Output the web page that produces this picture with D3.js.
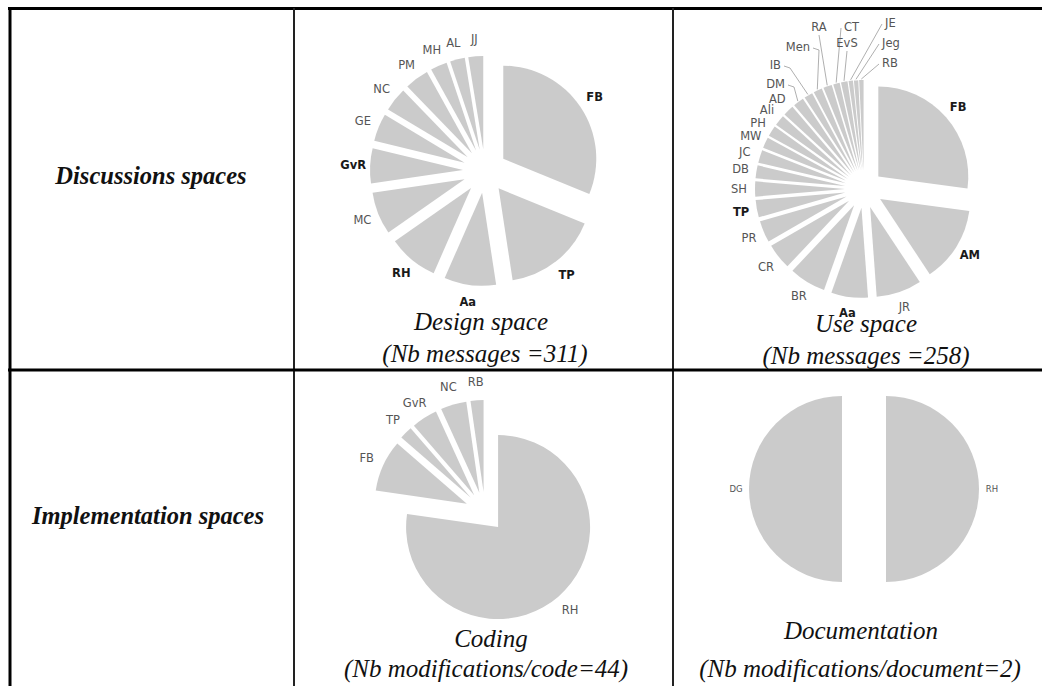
<!DOCTYPE html>
<html>
<head>
<meta charset="utf-8">
<script src="https://cdn.jsdelivr.net/npm/d3@7"></script>
<style>
  html, body { margin: 0; padding: 0; background: #fff; }
  svg { display: block; }
</style>
</head>
<body>
<svg id="chart" width="1042" height="686"></svg>
<script>
// ---------------- DATA ----------------
const designNames  = ["FB","TP","Aa","RH","MC","GvR","GE","NC","PM","MH","AL","JJ"];
const designValues = [97, 51, 28, 27, 23, 19, 15, 13, 13, 9, 8, 8];
const designBold   = ["FB","TP","Aa","RH","GvR"];

const useNames  = ["FB","AM","JR","Aa","BR","CR","PR","TP","SH","DB","JC","MW","PH","Ali","AD","DM","IB","Men","RA","CT","EvS","JE","Jeg","RB"];
const useValues = [70, 35, 21, 17, 17, 12, 10, 8, 7, 6, 6, 5, 5, 5, 5, 5, 4, 4, 4, 3, 3, 2, 2, 2];
const useBold   = ["FB","AM","Aa","TP"];

const codingNames  = ["RH","FB","TP","GvR","NC","RB"];
const codingValues = [34, 4, 1, 2, 2, 1];
const codingBold   = [];

const docNames  = ["RH","DG"];
const docValues = [1, 1];
const docBold   = [];

const rowHeaders = ["Discussions spaces", "Implementation spaces"];
const pieTitles = [
  ["Design space", "(Nb messages =311)"],
  ["Use space", "(Nb messages =258)"],
  ["Coding", "(Nb modifications/code=44)"],
  ["Documentation", "(Nb modifications/document=2)"]
];

// ---------------- LAYOUT ----------------
const svg = d3.select("#chart");
const FILL = "#cbcbcb";

// table rules
const grid = svg.append("g").attr("stroke", "#000");
grid.append("line").attr("x1", 8).attr("x2", 1042).attr("y1", 8.5).attr("y2", 8.5).attr("stroke-width", 3);
grid.append("line").attr("x1", 10).attr("x2", 10).attr("y1", 7).attr("y2", 686).attr("stroke-width", 3);
grid.append("line").attr("x1", 294).attr("x2", 294).attr("y1", 8).attr("y2", 686).attr("stroke-width", 2).attr("stroke", "#222");
grid.append("line").attr("x1", 673).attr("x2", 673).attr("y1", 8).attr("y2", 686).attr("stroke-width", 2).attr("stroke", "#222");
grid.append("line").attr("x1", 8).attr("x2", 1042).attr("y1", 370).attr("y2", 370).attr("stroke-width", 3);

// row headers
const headerPos = [[151, 175], [148, 515]];
rowHeaders.forEach((t, i) => {
  svg.append("text")
    .attr("x", headerPos[i][0]).attr("y", headerPos[i][1])
    .attr("dy", "0.35em")
    .attr("text-anchor", "middle")
    .style("font-family", "'Liberation Serif', 'DejaVu Serif', serif")
    .style("font-style", "italic").style("font-weight", "bold")
    .style("font-size", "24.5px").attr("fill", "#111")
    .text(t);
});

// pie titles
const titlePos = [
  [[481, 321], [485, 353]],
  [[866, 323], [866, 355]],
  [[491, 638], [486, 668]],
  [[861, 630], [860, 668]]
];
pieTitles.forEach((pair, i) => {
  pair.forEach((t, j) => {
    svg.append("text")
      .attr("x", titlePos[i][j][0]).attr("y", titlePos[i][j][1])
      .attr("dy", "0.35em").attr("text-anchor", "middle")
      .style("font-family", "'Liberation Serif', 'DejaVu Serif', serif")
      .style("font-style", "italic").style("font-size", "25px")
      .attr("fill", "#111").text(t);
  });
});

// generic exploded pie
function drawPie(opts) {
  const data = opts.names.map((n, i) => ({ name: n, value: opts.values[i] }));
  const pie = d3.pie().sort(null).value(d => d.value);
  const arcs = pie(data);
  const arc = d3.arc().innerRadius(0).outerRadius(opts.r);
  const g = svg.append("g").attr("transform", `translate(${opts.cx},${opts.cy})`);
  const mid = a => (a.startAngle + a.endAngle) / 2;
  const pt = (ang, rad) => [Math.sin(ang) * rad, -Math.cos(ang) * rad];

  g.selectAll("path.slice").data(arcs).join("path")
    .attr("class", "slice")
    .attr("d", arc)
    .attr("fill", FILL)
    .attr("transform", a => {
      const [x, y] = pt(mid(a), opts.explode);
      return `translate(${x},${y})`;
    });

  const labelR = opts.r + opts.explode + opts.labelPad;
  const leaders = opts.leaders || {};
  arcs.forEach(a => {
    const name = a.data.name;
    const bold = opts.bold.includes(name);
    const txt = g.append("text")
      .style("font-family", "'DejaVu Sans', Verdana, sans-serif")
      .style("font-size", opts.fontSize + "px")
      .style("font-weight", bold ? "bold" : "normal")
      .attr("fill", bold ? "#1a1a1a" : "#555")
      .attr("dy", "0.35em")
      .text(name);
    if (leaders[name]) {
      const L = leaders[name];
      txt.attr("x", L.dx).attr("y", L.dy).attr("text-anchor", L.anchor);
      let sx, sy;
      if (L.from === "below") { sx = L.dx; sy = L.dy + 8; }
      else if (L.anchor === "end") { sx = L.dx + 3; sy = L.dy + 1; }
      else { sx = L.dx - 3; sy = L.dy + 1; }
      const [ex, ey] = pt(mid(a), opts.r + opts.explode + 1);
      const pts = [[sx, sy]];
      if (L.anchor === "end" && L.from !== "below") pts.push([sx + 6, sy + 2]);
      pts.push([ex, ey]);
      g.append("polyline")
        .attr("points", pts.map(p => p.join(",")).join(" "))
        .attr("fill", "none").attr("stroke", "#9a9a9a").attr("stroke-width", 0.8);
    } else {
      const [x, y] = pt(mid(a), labelR);
      txt.attr("x", x).attr("y", y).attr("text-anchor", "middle");
    }
  });
}

drawPie({ names: designNames, values: designValues, bold: designBold,
  cx: 485, cy: 171, r: 93, explode: 22, labelPad: 17, fontSize: 11.5 });

drawPie({ names: useNames, values: useValues, bold: useBold,
  cx: 864, cy: 189, r: 90, explode: 19, labelPad: 16, fontSize: 11.5,
  leaders: {
    DM:  { dx: -79, dy: -105, anchor: "end" },
    IB:  { dx: -83, dy: -124, anchor: "end" },
    Men: { dx: -54, dy: -142, anchor: "end" },
    RA:  { dx: -45, dy: -162, anchor: "middle", from: "below" },
    CT:  { dx: -20, dy: -162, anchor: "start" },
    EvS: { dx: -17, dy: -146, anchor: "middle", from: "below" },
    JE:  { dx: 21,  dy: -166, anchor: "start" },
    Jeg: { dx: 18,  dy: -146, anchor: "start" },
    RB:  { dx: 18,  dy: -126, anchor: "start" }
  } });

drawPie({ names: codingNames, values: codingValues, bold: codingBold,
  cx: 485, cy: 512, r: 92, explode: 20, labelPad: 18, fontSize: 11.5 });

drawPie({ names: docNames, values: docValues, bold: docBold,
  cx: 864, cy: 489, r: 93, explode: 22, labelPad: 13, fontSize: 8.5 });
</script>
</body>
</html>
